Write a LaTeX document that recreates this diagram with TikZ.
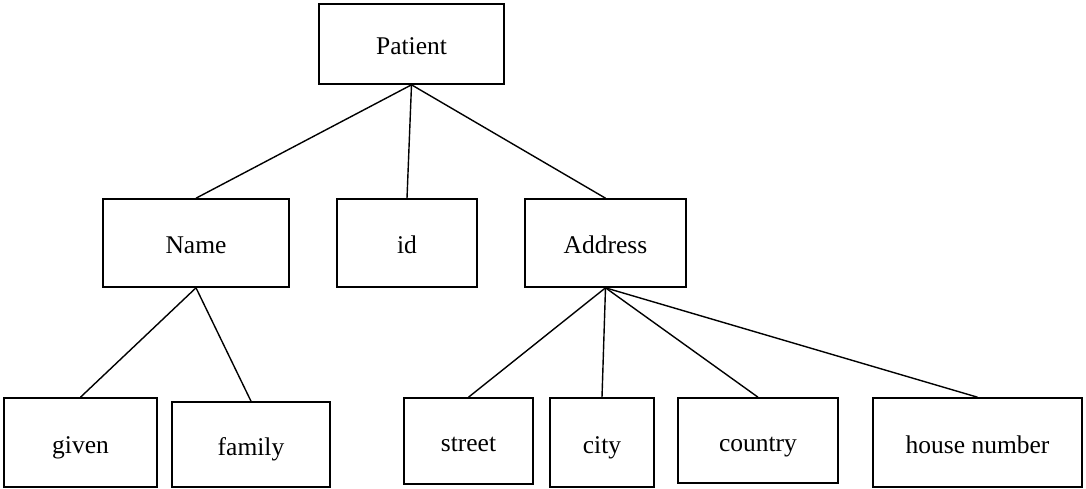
\documentclass[tikz,border=0pt]{standalone}
\usepackage{fontspec}
\setmainfont{Liberation Serif}
\begin{document}
\begin{tikzpicture}[x=1pt,y=-1pt,
  box/.style={draw,line width=1.6pt,inner sep=0pt,text height=21pt,text depth=0pt,font=\fontsize{25.5}{30}\selectfont},
  link/.style={line width=1.4pt}]
\useasboundingbox (0,0) rectangle (1086,488);
\node[box,minimum width=185pt,minimum height=80pt] (patient) at (411.5,44) {Patient};
\node[box,minimum width=186pt,minimum height=88pt] (name) at (196,243) {Name};
\node[box,minimum width=140pt,minimum height=88pt] (id) at (407,243) {id};
\node[box,minimum width=161pt,minimum height=88pt] (address) at (605.5,243) {Address};
\node[box,minimum width=153pt,minimum height=89pt] (given) at (80.5,442.5) {given};
\node[box,minimum width=158pt,minimum height=85pt] (family) at (251,444.5) {family};
\node[box,minimum width=129pt,minimum height=86pt] (street) at (468.5,441) {street};
\node[box,minimum width=104pt,minimum height=89pt] (city) at (602,442.5) {city};
\node[box,minimum width=160pt,minimum height=85pt] (country) at (758,440.5) {country};
\node[box,minimum width=209pt,minimum height=89pt] (house) at (977.5,442.5) {house number};
\foreach \c in {name,id,address} \draw[link] (patient.south) -- (\c.north);
\foreach \c in {given,family} \draw[link] (name.south) -- (\c.north);
\foreach \c in {street,city,country,house} \draw[link] (address.south) -- (\c.north);
\end{tikzpicture}
\end{document}
